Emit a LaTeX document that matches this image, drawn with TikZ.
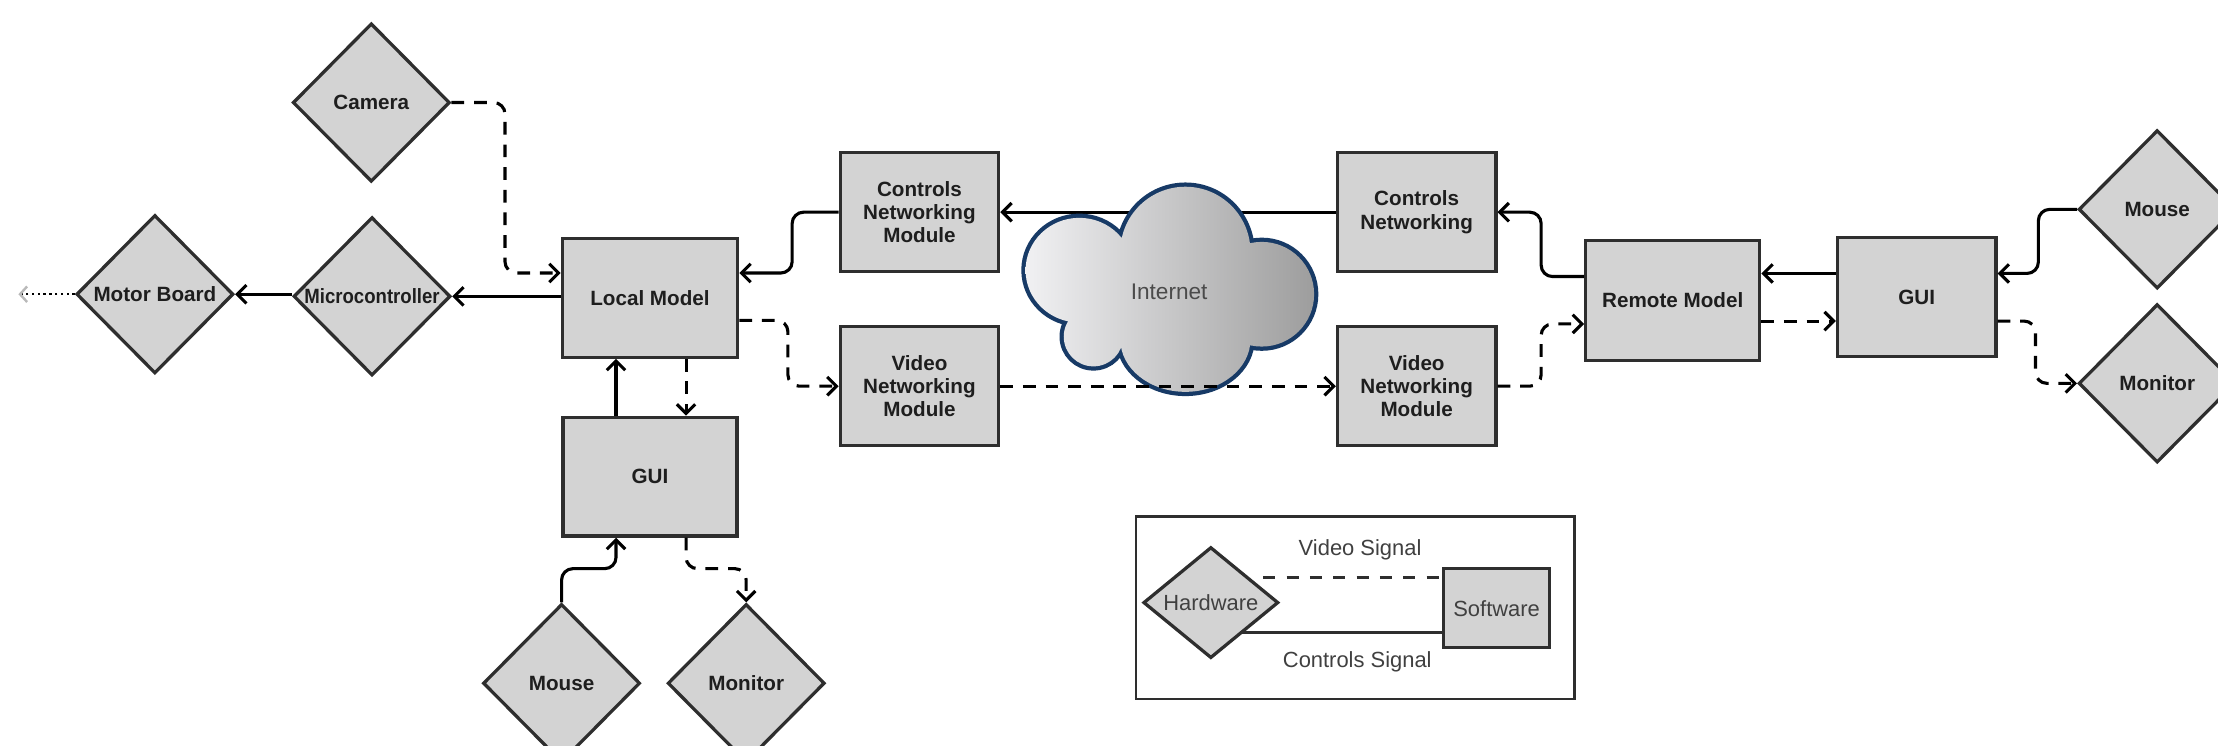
\documentclass[tikz,border=0pt]{standalone}
\usepackage{fontspec}
\usepackage{graphicx}
\setmainfont{Liberation Sans}
\usetikzlibrary{shapes.geometric, arrows.meta}

\definecolor{boxfill}{HTML}{D3D3D3}
\definecolor{boxline}{HTML}{2E2E2E}
\definecolor{cloudline}{HTML}{173A66}
\definecolor{cloudlight}{HTML}{F2F2F4}
\definecolor{clouddark}{HTML}{9C9C9C}
\definecolor{ink}{HTML}{1E1E1E}

\tikzset{
  lbl/.style={font=\fontsize{14.6}{16.5}\selectfont\bfseries, text=ink, align=center},
  lgd/.style={font=\fontsize{15.5}{18}\selectfont, text=ink!85, align=center},
  swbox/.style={draw=boxline, fill=boxfill, line width=2.3pt, rectangle, inner sep=0pt,
                minimum width=112pt, minimum height=84pt, lbl},
  hwdia/.style={draw=boxline, fill=boxfill, line width=2.3pt, diamond, inner sep=0pt,
                minimum width=111pt, minimum height=112pt},
  ctl/.style={draw=black, line width=2.2pt, rounded corners=8pt,
              -{Straight Barb[length=6.5pt,width=13pt]}},
  vid/.style={ctl, dash pattern=on 9pt off 7pt},
}

\begin{document}
\begin{tikzpicture}[x=1pt, y=-1pt]
\useasboundingbox (0,0) rectangle (1568,527);
\fill[white] (0,0) rectangle (1568,527);

% ---------- local station ----------
\node[hwdia, label={[lbl]center:Camera}] (cam) at (262.5,72.5) {};
\node[hwdia, label={[lbl]center:Motor Board}] (mb) at (109.5,208) {};
\node[hwdia, label={[lbl]center:\scalebox{0.9}[1]{Microcontroller}}] (mc) at (263,209.5) {};
\node[swbox, minimum width=124pt] (lm) at (459.5,210.5) {Local Model};
\node[swbox, minimum width=123pt] (gl) at (459.5,337) {GUI};
\node[hwdia, label={[lbl]center:Mouse}] (msl) at (397,483) {};
\node[hwdia, label={[lbl]center:Monitor}] (mnl) at (527.5,483) {};
\node[swbox] (cnm) at (650,150) {Controls\\Networking\\Module};
\node[swbox] (vnm) at (650,273) {Video\\Networking\\Module};

% ---------- remote station ----------
\node[swbox] (cn) at (1001.5,150) {Controls\\Networking};
\node[swbox] (vnr) at (1001.5,273) {Video\\Networking\\Module};
\node[swbox, minimum width=123pt, minimum height=85pt] (rm) at (1182.5,212.5) {Remote Model};
\node[swbox] (gr) at (1355,210) {GUI};
\node[hwdia, label={[lbl]center:Mouse}] (msr) at (1525,148) {};
\node[hwdia, label={[lbl]center:Monitor}] (mnr) at (1525,271) {};

% ---------- route points ----------
\coordinate (k1) at (357,193);
\coordinate (k2) at (560,193);
\coordinate (k3) at (557,226.5);
\coordinate (k4) at (485,0);
\coordinate (k5) at (435.5,0);
\coordinate (k6) at (435.5,402);
\coordinate (k7) at (527.5,402);
\coordinate (k8) at (1089.5,195.5);
\coordinate (k9) at (1089.5,229);
\coordinate (k10) at (1270,193.3);
\coordinate (k11) at (1270,227);
\coordinate (k12) at (1441,193.3);
\coordinate (k13) at (1439,227);
\coordinate (out) at (13,208);

% ---------- local connectors ----------
\draw[vid] (cam.east) -| (k1) -- (k1 -| lm.west);
\draw[ctl] (mc.east -| lm.west) -- (mc.east);
\draw[ctl] (mb.east -| mc.west) -- (mb.east);
\draw[line width=1.7pt, dash pattern=on 1.7pt off 2.4pt,
      -{Straight Barb[length=5pt,width=11pt,color=gray!55]}] (mb.west) -- (out);
\draw[ctl] (cnm.west) -| (k2) -- (k2 -| lm.east);
\draw[vid] (k3 -| lm.east) -- (k3) |- (vnm.west);
\draw[vid] (k4 |- lm.south) -- (k4 |- gl.north);
\draw[ctl] (k5 |- gl.north) -- (k5 |- lm.south);
\draw[ctl] (msl.north) |- (k6) -- (k6 |- gl.south);
\draw[vid] (k4 |- gl.south) |- (k7) -- (mnl.north);

% ---------- controls link behind the cloud ----------
\draw[ctl] (cn.west) -- (cnm.east);

% ---------- internet cloud ----------
\draw[cloudline, line width=6pt]
  (763,191) ellipse [x radius=38pt, y radius=37pt]
  (838,178) circle [radius=46pt]
  (892,208) circle [radius=37pt]
  (838,240) ellipse [x radius=46pt, y radius=37pt]
  (773,238) circle [radius=21pt]
  (830,208) ellipse [x radius=55pt, y radius=40pt];
\begin{scope}
  \clip
  (763,191) ellipse [x radius=38pt, y radius=37pt]
  (838,178) circle [radius=46pt]
  (892,208) circle [radius=37pt]
  (838,240) ellipse [x radius=46pt, y radius=37pt]
  (773,238) circle [radius=21pt]
  (830,208) ellipse [x radius=55pt, y radius=40pt];
  \shade[left color=cloudlight, right color=clouddark] (722,128) rectangle (932,282);
\end{scope}
\node[font=\fontsize{16}{19}\selectfont, text=ink!80] (inet) at (826.5,206) {Internet};

% ---------- video link over the cloud ----------
\draw[vid] (vnm.east) -- (vnr.west);

% ---------- remote connectors ----------
\draw[ctl] (k8 -| rm.west) -- (k8) |- (cn.east);
\draw[vid] (vnr.east) -| (k9) -- (k9 -| rm.west);
\draw[ctl] (k10 -| gr.west) -- (k10 -| rm.east);
\draw[vid] (k11 -| rm.east) -- (k11 -| gr.west);
\draw[ctl] (msr.west) -| (k12) -- (k12 -| gr.east);
\draw[vid] (k13 -| gr.east) -- (k13) |- (mnr.west);

% ---------- legend ----------
\node[draw=boxline, line width=1.8pt, minimum width=310pt, minimum height=129pt] (legend) at (958,429.5) {};
\coordinate (l1) at (893,408.2);
\coordinate (l2) at (878,447.4);
\node[swbox, minimum width=75pt, minimum height=56pt, lgd, font=\fontsize{15.5}{18}\selectfont] (sw) at (1058,430) {Software};
\draw[boxline, line width=2.2pt, dash pattern=on 8.5pt off 8pt] (l1) -- (l1 -| sw.west);
\draw[boxline, line width=2.2pt] (l2) -- (l2 -| sw.west);
\node[hwdia, minimum width=95.5pt, minimum height=78.5pt, label={[lgd]center:Hardware}] (hw) at (856,426) {};
\node[lgd] (vs) at (961.5,389) {Video Signal};
\node[lgd] (cs) at (959.5,468) {Controls Signal};
\end{tikzpicture}
\end{document}
